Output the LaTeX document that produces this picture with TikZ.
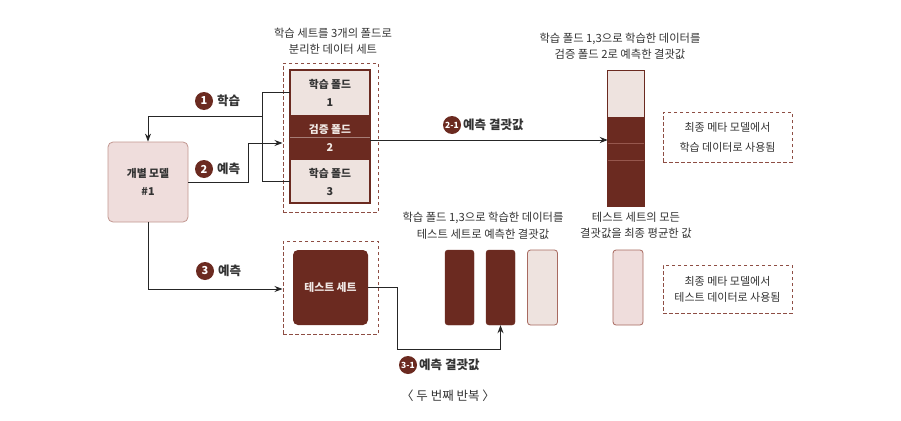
\documentclass[tikz,border=0pt]{standalone}
\usepackage{fontspec}
\setmainfont{Noto Sans CJK KR}
\usetikzlibrary{arrows.meta,calc}
\definecolor{dkbrown}{HTML}{6B2A20}
\definecolor{ltfold}{HTML}{EEE3DF}
\definecolor{ltpink}{HTML}{EFDDDC}
\definecolor{bord}{HTML}{A86A60}
\definecolor{dashc}{HTML}{8E4E44}
\definecolor{txt}{HTML}{333333}
\tikzset{
  every node/.style={text=txt},
  conn/.style={line width=0.9pt, black!85},
  arr/.style={conn, -{Stealth[length=8pt,width=6pt]}},
  boxfont/.style={font=\fontsize{10.8}{18}\selectfont\bfseries},
  foldlt/.style={rectangle, fill=ltfold, minimum width=80pt, align=center, boxfont, inner sep=0pt},
  folddk/.style={rectangle, fill=dkbrown, minimum width=80pt, align=center, boxfont, text=ltfold!80!white, inner sep=0pt},
  dashbox/.style={rectangle, draw=dashc, dashed, dash pattern=on 3.5pt off 2.5pt, line width=1pt, inner sep=0pt, align=center},
  title/.style={align=center, font=\fontsize{11.3}{16.5}\selectfont, inner sep=0pt},
  numc/.style={circle, fill=dkbrown, text=white, inner sep=0pt, minimum size=18pt, font=\fontsize{11}{12}\selectfont\bfseries},
  numlbl/.style={font=\fontsize{12.5}{13}\selectfont\bfseries, inner sep=0pt, anchor=west},
  darkbar/.style={rectangle, rounded corners=3pt, fill=dkbrown, draw=dkbrown, minimum width=29pt, minimum height=75pt, inner sep=0pt},
  lightbar/.style={rectangle, rounded corners=3pt, fill=ltpink, draw=bord, line width=0.8pt, minimum width=30pt, minimum height=75pt, inner sep=0pt},
}
\begin{document}
\begin{tikzpicture}[x=1pt,y=-1pt]
\useasboundingbox (0,0) rectangle (901,420);
\fill[white] (0,0) rectangle (901,420);

% individual model
\node[rectangle, rounded corners=5pt, fill=ltpink, draw=bord!70, line width=0.8pt,
      minimum width=80pt, minimum height=80pt, align=center, inner sep=0pt,
      boxfont] (model) at (148,182) {개별 모델\\\#1};

% fold stack
\node[title] (t1) at (333,41.5) {학습 세트를 3개의 폴드로\\분리한 데이터 세트};
\node[dashbox, minimum width=95pt, minimum height=149pt] (dash1) at (330.5,137.5) {};
\node[foldlt, minimum height=45pt] (fold1) at (330,92.5) {학습 폴드\\1};
\node[folddk, minimum height=45pt] (fold2) at (330,137.5) {검증 폴드\\2};
\node[foldlt, minimum height=43pt] (fold3) at (330,181.5) {학습 폴드\\3};
\draw[dkbrown, line width=1.6pt] (fold1.north west) rectangle (fold3.south east);
\draw[ltfold!45!dkbrown, line width=0.3pt] (fold2.west) -- (fold2.east);

% result bar (validation predictions)
\node[title] (t2) at (620,46) {학습 폴드 1,3으로 학습한 데이터를\\검증 폴드 2로 예측한 결괏값};
\node[rectangle, fill=ltfold, minimum width=36pt, minimum height=46pt, inner sep=0pt] (rb1) at (626,93.5) {};
\node[rectangle, fill=dkbrown, minimum width=36pt, minimum height=89pt, inner sep=0pt] (rb2) at (626,161.5) {};
\draw[dkbrown, line width=1.2pt] (rb1.north west) rectangle (rb2.south east);
\draw[bord!70!dkbrown, line width=0.6pt] (rb2.west |- 0,143) -- (rb2.east |- 0,143)
      (rb2.west |- 0,160) -- (rb2.east |- 0,160);

\node[dashbox, minimum width=129pt, minimum height=50pt, font=\fontsize{11}{20}\selectfont] (meta1) at (727.5,137) {최종 메타 모델에서\\학습 데이터로 사용됨};

% test set
\node[dashbox, minimum width=95pt, minimum height=93pt] (dash2) at (330.5,287.5) {};
\node[rectangle, rounded corners=5pt, fill=dkbrown, minimum width=75pt, minimum height=75pt,
      inner sep=0pt, text=ltfold!85!white, boxfont] (test) at (330.5,287.5) {테스트 세트};

% test predictions
\node[title] (t3) at (483,225.5) {학습 폴드 1,3으로 학습한 데이터를\\테스트 세트로 예측한 결괏값};
\node[darkbar] (b1) at (459.5,287.5) {};
\node[darkbar] (b2) at (500.5,287.5) {};
\node[lightbar, fill=ltfold] (b3) at (542.5,287.5) {};

\node[title] (t4) at (636,225.5) {테스트 세트의 모든\\결괏값을 최종 평균한 값};
\node[lightbar] (avg) at (628,287.5) {};

\node[dashbox, minimum width=129pt, minimum height=48pt, font=\fontsize{11}{16}\selectfont] (meta2) at (727.5,289) {최종 메타 모델에서\\테스트 데이터로 사용됨};

% connectors
\coordinate (j1) at (262,116);
\draw[conn] (fold1.west) -| (j1);
\draw[conn] (fold3.west) -| (j1);
\draw[arr] (j1) -| (model.north);

\coordinate (p2) at (248,143);
\draw[arr] (model.east) -| (p2) -- (p2 -| dash1.west);

\draw[arr] (fold2.east |- 0,140) -- (rb2.west |- 0,140);

\coordinate (p3) at (148,289);
\draw[arr] (model.south) -- (p3) -- (p3 -| dash2.west);

\coordinate (q) at (397,349);
\draw[arr] (test.east) -| (q) -| (b2.south);

% labels
\node[numc] (n1) at (204,101) {1};
\node[numlbl] (l1) at (217,101) {학습};
\node[numc] (n2) at (204,169) {2};
\node[numlbl] (l2) at (217,169) {예측};
\node[numc, font=\fontsize{8.5}{9}\selectfont\bfseries] (n21) at (452,125) {2-1};
\node[numlbl] (l21) at (463,125) {예측 결괏값};
\node[numc] (n3) at (205,271) {3};
\node[numlbl] (l3) at (218,271) {예측};
\node[numc, font=\fontsize{8.5}{9}\selectfont\bfseries] (n31) at (408,365) {3-1};
\node[numlbl] (l31) at (419,365) {예측 결괏값};

\node[font=\fontsize{12.5}{13}\selectfont, inner sep=0pt] (cap) at (448,396) {〈 두 번째 반복 〉};
\end{tikzpicture}
\end{document}
